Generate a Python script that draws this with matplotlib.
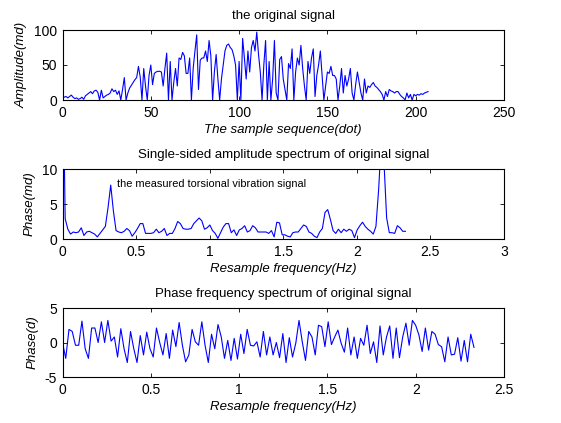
import matplotlib
matplotlib.use('Agg')
import matplotlib.pyplot as plt
from matplotlib.ticker import FuncFormatter
import numpy as np

plt.rcParams['font.family'] = ['Liberation Sans', 'DejaVu Sans']

# original signal, one value per sample
signal = [
    6, 4, 5, 3, 5, 7, 4, 2, 3, 1,
    2, 4, 1, 6, 8, 10, 12, 9, 13, 14,
    11, 0, 14, 3, 5, 7, 8, 10, 16, 12,
    14, 8, 13, 0, 15, 32, 0, 10, 17, 21,
    25, 29, 32, 48, 33, 0, 45, 20, 0, 35,
    50, 22, 38, 40, 41, 41, 40, 20, 45, 67,
    0, 55, 0, 25, 45, 20, 60, 58, 68, 63,
    38, 38, 60, 0, 45, 70, 93, 15, 57, 60,
    60, 70, 55, 85, 63, 0, 40, 65, 30, 0,
    30, 50, 70, 78, 80, 75, 72, 63, 50, 0,
    55, 0, 88, 60, 30, 70, 40, 75, 85, 70,
    97, 65, 40, 0, 50, 85, 0, 55, 0, 30,
    85, 10, 0, 58, 62, 30, 15, 0, 52, 45,
    73, 0, 40, 60, 50, 78, 45, 20, 0, 55,
    38, 60, 73, 5, 35, 50, 70, 35, 0, 20,
    40, 38, 48, 35, 35, 30, 0, 20, 45, 10,
    35, 20, 30, 45, 10, 0, 22, 40, 25, 10,
    0, 30, 10, 20, 18, 22, 25, 20, 18, 15,
    12, 8, 0, 12, 5, 15, 13, 12, 10, 12,
    12, 8, 5, 3, 0, 10, 3, 8, 0, 8,
    6, 8, 7, 9, 8, 10, 11, 12,
]

# single-sided amplitude spectrum
amp_spec = [
    30, 2.9, 1.4, 0.7, 1.0, 0.9, 1.0, 1.6, 0.5, 1.0,
    1.1, 0.9, 0.7, 0.3, 0.8, 1.3, 1.8, 4.5, 7.7, 4.0,
    1.2, 1.0, 0.9, 1.1, 1.5, 1.2, 0.4, 0.9, 1.5, 2.2,
    2.2, 0.8, 0.8, 0.8, 0.9, 1.4, 0.9, 1.1, 1.5, 0.5,
    0.8, 0.8, 1.5, 2.5, 2.2, 1.5, 1.4, 1.4, 1.5, 2.2,
    2.6, 3.0, 2.6, 1.4, 1.6, 2.0, 1.2, 0.8, 0.1, 0.9,
    1.7, 2.2, 2.2, 0.9, 1.3, 0.5, 1.3, 1.5, 1.9, 1.0,
    1.2, 1.9, 1.6, 1.0, 1.0, 1.0, 1.0, 0.8, 1.2, 0.3,
    2.4, 2.3, 0.6, 0.6, 0.4, 0.3, 0.9, 1.0, 1.0, 1.5,
    2.0, 1.8, 1.0, 0.8, 0.4, 0.2, 1.0, 1.5, 3.8, 4.2,
    2.8, 1.2, 0.8, 1.4, 0.9, 1.4, 1.1, 1.4, 1.2, 0.2,
    1.3, 1.9, 2.4, 1.8, 1.4, 1.1, 0.7, 1.8, 7.0, 14.0,
    11.0, 3.0, 0.9, 0.9, 0.8, 1.9, 1.6, 1.1, 1.1,
]

# phase spectrum
phase_spec = [
    0, -2.3, 1.9, 1.6, -0.4, -0.4, 3.1, -0.9, -2.3, 2.1,
    2.1, 0, 3.0, 0, 3.2, 0.2, 0.8, -2.1, 2.0, -0.9,
    -2.9, 1.6, -0.9, -2.9, 1.0, -1.8, 1.5, -0.9, -2.1, 2.1,
    0, -1.8, 1.3, -2.3, 1.8, -0.6, 2.9, -0.4, -2.8, -1.8,
    1.9, 0.1, -0.4, 3.0, -0.4, -2.9, 1.2, -0.9, 2.6, 0.8,
    -2.3, 0.3, -2.6, 0.6, -2.4, 1.2, -1.6, 1.9, -0.4, -0.5,
    0.1, -2.1, 1.6, -1.8, 0.8, -1.8, 0, -2.2, 1.3, -2.9,
    0.7, -2.1, -0.1, 3.2, 0.1, -2.6, 1.6, 0.8, -1.8, 2.5,
    2.3, -0.6, 3.0, -0.3, 0.8, 1.8, -0.1, -1.4, 2.1, -1.8,
    0.8, -2.3, 0.6, -0.4, 2.5, -1.6, 0.1, -2.9, 2.4, -1.8,
    0.8, 2.4, -2.3, 2.1, -2.2, 0.8, 2.8, -0.4, 3.2, 2.5,
    1.1, -1.3, 2.1, -1.1, 1.6, 1.2, -0.3, -0.6, -2.8, 0.8,
    -1.8, -1.7, 0.7, -2.7, 0.3, -2.8, 1.2, -0.7,
]

f_max = 2.33
n_axis = np.arange(len(signal))
f_amp = np.linspace(0, f_max, len(amp_spec))
f_phase = np.linspace(0, f_max, len(phase_spec))

fig = plt.figure(figsize=(5.61, 4.23), dpi=100)
W, H = 561.0, 423.0

def make_axes(left, top, right, bottom):
    return fig.add_axes([left / W, 1 - bottom / H, (right - left) / W, (bottom - top) / H])

ax1 = make_axes(62.5, 30, 504, 100)
ax2 = make_axes(62.5, 169, 504, 239)
ax3 = make_axes(62.5, 308, 504, 377)

fmt = FuncFormatter(lambda v, p: '%g' % v)
line_kw = dict(color='#0000ff', linewidth=0.8)
title_kw = dict(fontsize=9.5, pad=8)
lab_kw = dict(fontsize=9.5, style='italic')

ax1.plot(n_axis, signal, **line_kw)
ax1.set_xlim(0, 250)
ax1.set_ylim(0, 100)
ax1.set_xticks([0, 50, 100, 150, 200, 250])
ax1.set_yticks([0, 50, 100])
ax1.set_title('the original signal', **title_kw)
ax1.set_xlabel('The sample sequence(dot)', labelpad=3.5, **lab_kw)
ax1.set_ylabel('Amplitude(md)', labelpad=4.5, **lab_kw)

ax2.plot(f_amp, amp_spec, **line_kw)
ax2.set_xlim(0, 3)
ax2.set_ylim(0, 10)
ax2.set_xticks([0, 0.5, 1, 1.5, 2, 2.5, 3])
ax2.set_yticks([0, 5, 10])
ax2.set_title('Single-sided amplitude spectrum of original signal', **title_kw)
ax2.set_xlabel('Resample frequency(Hz)', labelpad=3.5, **lab_kw)
ax2.set_ylabel('Phase(md)', labelpad=4.5, **lab_kw)
ax2.text(0.37, 7.9, 'the measured torsional vibration signal', fontsize=7.9, va='center')

ax3.plot(f_phase, phase_spec, **line_kw)
ax3.set_xlim(0, 2.5)
ax3.set_ylim(-5, 5)
ax3.set_xticks([0, 0.5, 1, 1.5, 2, 2.5])
ax3.set_yticks([-5, 0, 5])
ax3.set_title('Phase frequency spectrum of original signal', **title_kw)
ax3.set_xlabel('Resample frequency(Hz)', labelpad=3.5, **lab_kw)
ax3.set_ylabel('Phase(d)', labelpad=4.5, **lab_kw)

for ax in (ax1, ax2, ax3):
    ax.xaxis.set_major_formatter(fmt)
    ax.yaxis.set_major_formatter(fmt)
    ax.tick_params(direction='in', top=True, right=True, length=3, width=0.6,
                   labelsize=10, pad=4)
    for s in ax.spines.values():
        s.set_linewidth(0.8)

fig.savefig('out.png', dpi=100)
